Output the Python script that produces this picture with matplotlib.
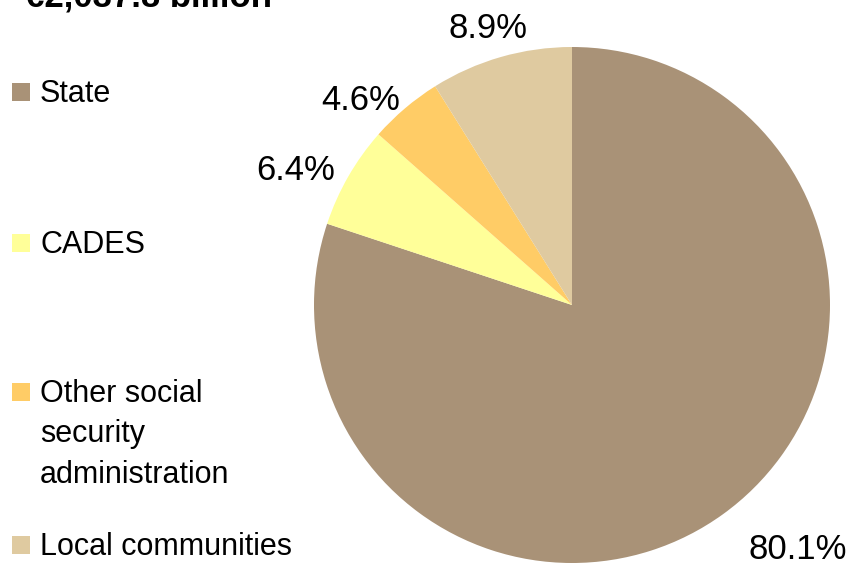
import matplotlib
matplotlib.use("Agg")
import matplotlib.pyplot as plt
from matplotlib.patches import Rectangle
import numpy as np

plt.rcParams['font.family'] = ['Liberation Sans', 'DejaVu Sans']

title = "€2,037.8 billion"
categories = ["State", "CADES", "Other social\nsecurity\nadministration", "Local communities"]
shares = [80.1, 6.4, 4.6, 8.9]
colors = ["#A99277", "#FFFF99", "#FFCC66", "#DFCAA0"]

# label placement style (radial distance, angle offset in degrees)
label_dist = [1.29, 1.19, 1.14, 1.12]
label_dang = [6.9, 4.0, 5.7, 0.9]

W, H = 850, 566
fig = plt.figure(figsize=(W / 100, H / 100), dpi=100)
cx, cy, r = 572, 305, 258
ax = fig.add_axes([(cx - r) / W, (H - cy - r) / H, 2 * r / W, 2 * r / H])
wedges, _ = ax.pie(shares, colors=colors, startangle=90, counterclock=False,
                   radius=1, wedgeprops=dict(linewidth=0))
ax.set_xlim(-1, 1)
ax.set_ylim(-1, 1)
ax.set_aspect('equal')
ax.axis('off')

for w, s, d, da in zip(wedges, shares, label_dist, label_dang):
    mid = np.deg2rad((w.theta1 + w.theta2) / 2 + da)
    ax.text(d * np.cos(mid), d * np.sin(mid), f"{s:.1f}%", ha='center', va='center',
            fontsize=25, clip_on=False)

# title (cut at top as in reference)
fig.text(25 / W, 1 - 7 / H, title, fontsize=25, fontweight='bold', ha='left', va='baseline')

# legend
legend_y = [92, 243, 392, 545]
for cat, col, y in zip(categories, colors, legend_y):
    fig.patches.append(Rectangle((12 / W, 1 - (y + 9) / H), 18 / W, 18 / H,
                                 transform=fig.transFigure, facecolor=col, edgecolor='none'))
    fig.text(40 / W, 1 - (y - 13) / H, cat, fontsize=22, ha='left', va='top',
             linespacing=1.45, transform=fig.transFigure)

fig.savefig("out.png", dpi=100)
